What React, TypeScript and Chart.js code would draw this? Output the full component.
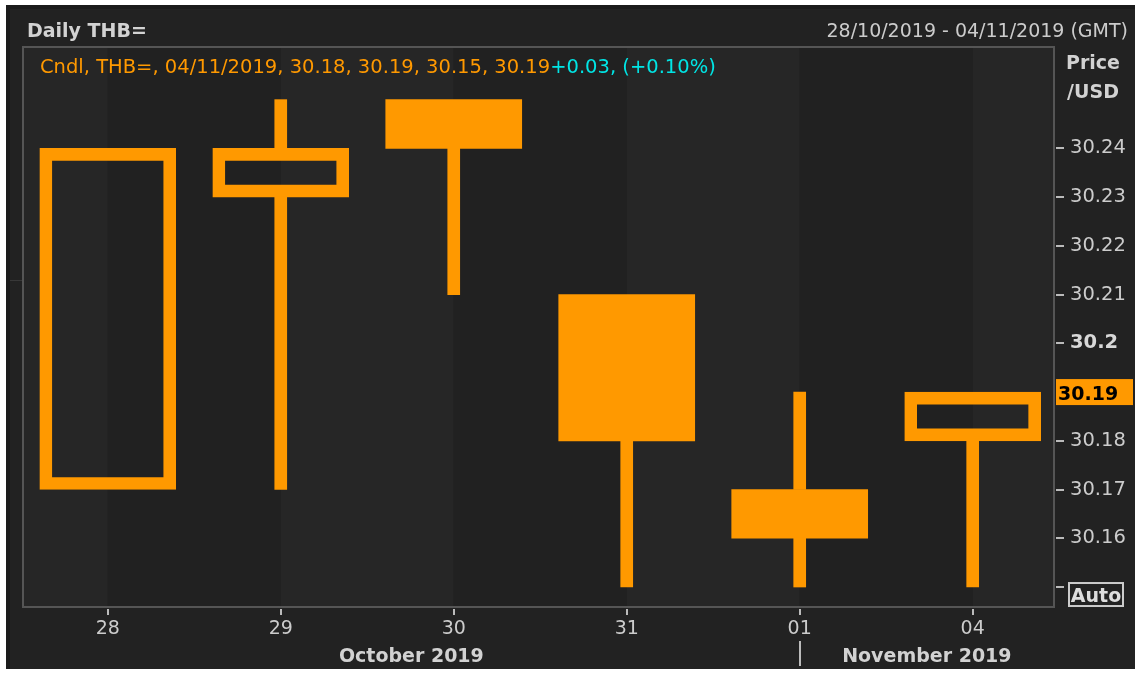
import React, { useEffect, useRef } from 'react';
import { Chart, registerables } from 'chart.js';

Chart.register(...registerables);

const FONT = '"DejaVu Sans", Verdana, sans-serif';
const ORANGE = '#ff9900';
const CYAN = '#00e5e5';
const TEXT = '#cccccc';

const instrument = 'THB=';
const fullDates = ['28/10/2019', '29/10/2019', '30/10/2019', '31/10/2019', '01/11/2019', '04/11/2019'];
const dayLabels = ['28', '29', '30', '31', '01', '04'];
const openValues = [30.17, 30.23, 30.25, 30.21, 30.17, 30.18];
const highValues = [30.24, 30.25, 30.25, 30.21, 30.19, 30.19];
const lowValues = [30.17, 30.17, 30.21, 30.15, 30.15, 30.15];
const closeValues = [30.24, 30.24, 30.24, 30.18, 30.16, 30.19];
const monthLabels = ['October 2019', 'November 2019'];
const monthStartIndex = [0, 4];
const yTickLabels = ['30.24', '30.23', '30.22', '30.21', '30.2', '30.18', '30.17', '30.16'];

const Y_MIN = 30.1459;
const Y_MAX = 30.2608;
const X_MIN = -0.49;
const X_MAX = 5.47;

const r2 = (v: number) => Math.round(v * 100) / 100;

export default function App() {
  const canvasRef = useRef<HTMLCanvasElement | null>(null);

  useEffect(() => {
    const canvas = canvasRef.current;
    if (!canvas) return;

    const seg = (i: number, a: number, b: number) => (Math.abs(a - b) < 1e-9 ? { x: i, y: null } : { x: i, y: [a, b] });
    const upperWick = openValues.map((o, i) => seg(i, Math.max(o, closeValues[i]), highValues[i]));
    const lowerWick = openValues.map((o, i) => seg(i, lowValues[i], Math.min(o, closeValues[i])));
    const bodies = openValues.map((o, i) => ({ x: i, y: [o, closeValues[i]] }));
    const rising = openValues.map((o, i) => closeValues[i] >= o);

    const last = closeValues.length - 1;
    const change = closeValues[last] - closeValues[last - 1];
    const pct = (change / closeValues[last - 1]) * 100;
    const sign = (v: number) => (v >= 0 ? '+' : '');
    const legendMain = `Cndl, ${instrument}, ${fullDates[last]}, ${openValues[last].toFixed(2)}, ${highValues[last].toFixed(2)}, ${lowValues[last].toFixed(2)}, ${closeValues[last].toFixed(2)}`;
    const legendChange = `${sign(change)}${change.toFixed(2)}, (${sign(pct)}${pct.toFixed(2)}%)`;

    const decor = {
      id: 'decor',
      beforeDraw(chart: any) {
        const { ctx } = chart;
        ctx.save();
        ctx.fillStyle = '#ffffff';
        ctx.fillRect(0, 0, chart.width, chart.height);
        ctx.fillStyle = '#1b1b1b';
        ctx.fillRect(6, 5, 1129, 664);
        ctx.fillStyle = '#222222';
        ctx.fillRect(10, 9, 1125, 660);
        ctx.fillStyle = '#383838';
        ctx.fillRect(10, 280, 13, 1);
        ctx.restore();
      },
      beforeDatasetsDraw(chart: any) {
        const { ctx, chartArea } = chart;
        const xs = chart.scales.x;
        ctx.save();
        for (let i = -1; i < dayLabels.length; i++) {
          const a = Math.max(chartArea.left, xs.getPixelForValue(i));
          const b = Math.min(chartArea.right, xs.getPixelForValue(i + 1));
          if (b <= a) continue;
          ctx.fillStyle = (i + 2) % 2 === 1 ? '#262626' : '#212121';
          ctx.fillRect(a, chartArea.top, b - a, chartArea.bottom - chartArea.top);
        }
        ctx.restore();
      },
      afterDatasetsDraw(chart: any) {
        const { ctx, chartArea } = chart;
        const xs = chart.scales.x;
        const ys = chart.scales.y;
        ctx.save();
        // frame
        ctx.strokeStyle = '#555555';
        ctx.lineWidth = 2;
        ctx.strokeRect(chartArea.left, chartArea.top, chartArea.right - chartArea.left, chartArea.bottom - chartArea.top);

        // header texts
        ctx.textBaseline = 'alphabetic';
        ctx.fillStyle = '#d2d2d2';
        ctx.font = `bold 19px ${FONT}`;
        ctx.textAlign = 'left';
        ctx.fillText(`Daily ${instrument}`, 27, 37);
        ctx.font = `19px ${FONT}`;
        ctx.fillStyle = TEXT;
        ctx.textAlign = 'right';
        ctx.fillText(`${fullDates[0]} - ${fullDates[last]} (GMT)`, 1128, 37);

        // legend
        ctx.font = `19.5px ${FONT}`;
        ctx.textAlign = 'left';
        ctx.fillStyle = ORANGE;
        ctx.fillText(legendMain, 40, 73);
        const w = ctx.measureText(legendMain).width;
        ctx.fillStyle = CYAN;
        ctx.fillText(legendChange, 40 + w, 73);

        // price header
        ctx.font = `bold 19px ${FONT}`;
        ctx.fillStyle = '#d2d2d2';
        ctx.textAlign = 'center';
        ctx.fillText('Price', 1093, 69);
        ctx.fillText('/USD', 1093, 98);

        // y tick marks
        ctx.strokeStyle = '#bbbbbb';
        ctx.lineWidth = 2;
        const autoVal = r2(ys.ticks[0].value);
        ys.ticks.forEach((t: any) => {
          const v = r2(t.value);
          const lbl = String(v);
          if (yTickLabels.indexOf(lbl) < 0 && v !== autoVal) return;
          const p = Math.round(ys.getPixelForValue(v));
          ctx.beginPath();
          ctx.moveTo(chartArea.right + 2, p);
          ctx.lineTo(chartArea.right + 10, p);
          ctx.stroke();
        });
        // x tick marks
        xs.ticks.forEach((t: any) => {
          const p = Math.round(xs.getPixelForValue(t.value));
          ctx.beginPath();
          ctx.moveTo(p, chartArea.bottom + 2);
          ctx.lineTo(p, chartArea.bottom + 8);
          ctx.stroke();
        });

        // Auto button
        const pa = ys.getPixelForValue(autoVal);
        ctx.strokeStyle = '#cccccc';
        ctx.lineWidth = 2;
        ctx.strokeRect(1069, pa - 4, 54, 23);
        ctx.fillStyle = '#dddddd';
        ctx.font = `bold 19px ${FONT}`;
        ctx.textAlign = 'center';
        ctx.fillText('Auto', 1096, pa + 15);

        // last close highlight
        const pc = ys.getPixelForValue(closeValues[last]);
        ctx.fillStyle = ORANGE;
        ctx.fillRect(chartArea.right + 2, pc - 13, 77, 26);
        ctx.fillStyle = '#000000';
        ctx.textAlign = 'left';
        ctx.fillText(closeValues[last].toFixed(2), chartArea.right + 4, pc + 8);

        // month labels and separator
        ctx.font = `bold 19px ${FONT}`;
        ctx.fillStyle = '#d2d2d2';
        ctx.textAlign = 'center';
        monthLabels.forEach((m, k) => {
          const a = k === 0 ? chartArea.left : xs.getPixelForValue(monthStartIndex[k]);
          const b = k + 1 < monthLabels.length ? xs.getPixelForValue(monthStartIndex[k + 1]) : chartArea.right;
          ctx.fillText(m, (a + b) / 2, 662);
          if (k > 0) {
            ctx.strokeStyle = '#bbbbbb';
            ctx.lineWidth = 2;
            ctx.beginPath();
            ctx.moveTo(Math.round(a), 641);
            ctx.lineTo(Math.round(a), 666);
            ctx.stroke();
          }
        });
        ctx.restore();
      },
    };

    const chart = new Chart(canvas, {
      type: 'bar',
      data: {
        datasets: [
          {
            data: upperWick as any,
            backgroundColor: ORANGE,
            borderWidth: 0,
            barThickness: 12,
            grouped: false,
          } as any,
          {
            data: lowerWick as any,
            backgroundColor: ORANGE,
            borderWidth: 0,
            barThickness: 12,
            grouped: false,
          } as any,
          {
            data: bodies as any,
            backgroundColor: rising.map((r) => (r ? 'rgba(0,0,0,0)' : ORANGE)),
            borderColor: ORANGE,
            borderWidth: rising.map((r) => (r ? 12 : 0)),
            borderSkipped: false,
            barThickness: 136,
            grouped: false,
          } as any,
        ],
      },
      options: {
        responsive: false,
        animation: false,
        devicePixelRatio: 1,
        layout: { padding: { left: 23, top: 47, right: 0, bottom: 0 } },
        plugins: { legend: { display: false }, tooltip: { enabled: false } },
        scales: {
          x: {
            type: 'linear',
            min: X_MIN,
            max: X_MAX,
            offset: false,
            grid: { display: true, drawOnChartArea: false, drawTicks: false },
            border: { display: false },
            ticks: {
              stepSize: 1,
              includeBounds: false,
              autoSkip: false,
              maxRotation: 0,
              padding: 11,
              color: TEXT,
              font: { family: FONT, size: 19 },
              callback: (v: any) => {
                const i = Math.round(Number(v));
                return dayLabels[i] ?? '';
              },
            },
            afterFit: (s: any) => {
              s.height = 66;
            },
          },
          y: {
            type: 'linear',
            position: 'right',
            min: Y_MIN,
            max: Y_MAX,
            grid: { display: true, drawOnChartArea: false, drawTicks: false },
            border: { display: false },
            ticks: {
              stepSize: 0.01,
              includeBounds: false,
              autoSkip: false,
              padding: 16,
              color: (c: any) => (c.tick && String(r2(c.tick.value)).split('.')[1]?.length === 1 ? '#d8d8d8' : TEXT),
              font: (c: any) => {
                const v = c.tick ? r2(c.tick.value) : 0;
                const round = String(v).split('.')[1]?.length === 1;
                return { family: FONT, size: 19.5, weight: round ? 'bold' : 'normal' } as any;
              },
              callback: (v: any) => {
                const lbl = String(r2(Number(v)));
                return yTickLabels.indexOf(lbl) >= 0 ? lbl : '';
              },
            },
            afterFit: (s: any) => {
              s.width = 84;
            },
          },
        },
      } as any,
      plugins: [decor],
    });

    return () => chart.destroy();
  }, []);

  return (
    <div style={{ position: 'fixed', left: 0, top: 0, width: 1138, height: 673, background: '#ffffff' }}>
      <canvas ref={canvasRef} width={1138} height={673} style={{ display: 'block', width: 1138, height: 673 }} />
    </div>
  );
}
